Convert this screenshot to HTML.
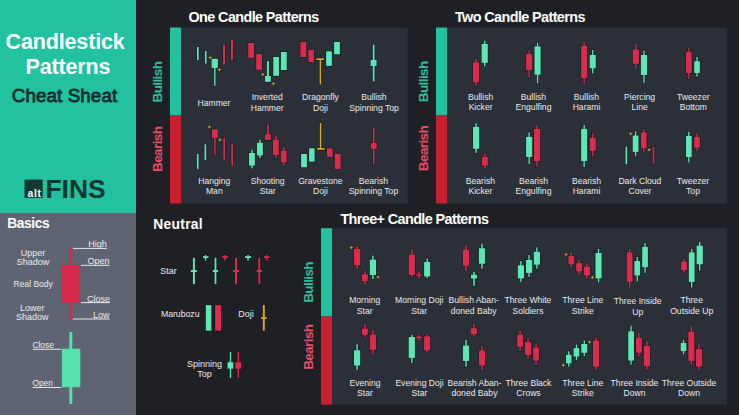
<!DOCTYPE html>
<html><head><meta charset="utf-8"><style>
html,body{margin:0;padding:0;background:#1f2026;width:739px;height:415px;overflow:hidden}
svg{display:block}
text{font-family:"Liberation Sans",sans-serif}
</style></head><body>
<svg width="739" height="415" viewBox="0 0 739 415">
<rect x="0" y="0" width="739" height="415" fill="#1f2026"/>
<rect x="0.0" y="0.0" width="136.0" height="213.0" fill="#22c1a0"/>
<rect x="0.0" y="213.0" width="136.0" height="202.0" fill="#5e6472"/>
<rect x="181.0" y="27.5" width="226.5" height="176.0" fill="#2b2f37"/>
<rect x="170.0" y="27.5" width="11.0" height="88.0" fill="#22c1a0"/>
<rect x="170.0" y="115.5" width="11.0" height="88.0" fill="#c8202e"/>
<rect x="447.0" y="27.5" width="280.0" height="176.0" fill="#2b2f37"/>
<rect x="436.0" y="27.5" width="11.0" height="88.0" fill="#22c1a0"/>
<rect x="436.0" y="115.5" width="11.0" height="88.0" fill="#c8202e"/>
<rect x="332.0" y="228.2" width="395.0" height="176.6" fill="#2b2f37"/>
<rect x="321.0" y="228.2" width="11.0" height="88.3" fill="#22c1a0"/>
<rect x="321.0" y="316.5" width="11.0" height="88.3" fill="#c8202e"/>
<rect x="196.3" y="46.2" width="3.1" height="14.8" fill="#16161c" opacity="0.7"/>
<rect x="204.2" y="50.3" width="3.1" height="14.0" fill="#16161c" opacity="0.7"/>
<rect x="213.4" y="58.1" width="2.8" height="28.5" fill="#16161c" opacity="0.7"/>
<rect x="210.9" y="58.1" width="7.7" height="10.5" fill="#16161c" opacity="0.7"/>
<rect x="222.3" y="43.8" width="3.4" height="21.6" fill="#16161c" opacity="0.7"/>
<rect x="230.3" y="39.0" width="3.4" height="21.6" fill="#16161c" opacity="0.7"/>
<rect x="247.5" y="42.3" width="7.2" height="16.2" fill="#16161c" opacity="0.7"/>
<rect x="255.5" y="53.4" width="7.2" height="17.1" fill="#16161c" opacity="0.7"/>
<rect x="266.2" y="60.4" width="3.4" height="22.1" fill="#16161c" opacity="0.7"/>
<rect x="264.3" y="75.3" width="7.2" height="7.2" fill="#16161c" opacity="0.7"/>
<rect x="272.6" y="56.3" width="7.1" height="20.2" fill="#16161c" opacity="0.7"/>
<rect x="280.2" y="51.3" width="7.2" height="19.4" fill="#16161c" opacity="0.7"/>
<rect x="299.7" y="41.3" width="7.2" height="16.4" fill="#16161c" opacity="0.7"/>
<rect x="307.7" y="49.1" width="6.9" height="13.7" fill="#16161c" opacity="0.7"/>
<rect x="315.6" y="57.7" width="9.1" height="3.0" fill="#16161c" opacity="0.7"/>
<rect x="318.9" y="57.7" width="2.9" height="27.6" fill="#16161c" opacity="0.7"/>
<rect x="325.4" y="50.6" width="7.2" height="16.0" fill="#16161c" opacity="0.7"/>
<rect x="333.4" y="41.3" width="7.2" height="13.7" fill="#16161c" opacity="0.7"/>
<rect x="372.1" y="44.0" width="3.1" height="38.2" fill="#16161c" opacity="0.7"/>
<rect x="369.9" y="59.2" width="7.4" height="7.5" fill="#16161c" opacity="0.7"/>
<rect x="196.2" y="153.2" width="3.1" height="16.8" fill="#16161c" opacity="0.7"/>
<rect x="203.8" y="143.6" width="3.1" height="17.1" fill="#16161c" opacity="0.7"/>
<rect x="213.5" y="128.6" width="2.8" height="27.6" fill="#16161c" opacity="0.7"/>
<rect x="211.3" y="128.6" width="7.2" height="10.0" fill="#16161c" opacity="0.7"/>
<rect x="222.6" y="137.2" width="3.1" height="23.1" fill="#16161c" opacity="0.7"/>
<rect x="230.6" y="143.0" width="3.1" height="23.5" fill="#16161c" opacity="0.7"/>
<rect x="250.6" y="149.0" width="2.8" height="20.2" fill="#16161c" opacity="0.7"/>
<rect x="248.3" y="152.3" width="7.3" height="14.0" fill="#16161c" opacity="0.7"/>
<rect x="258.5" y="138.9" width="2.8" height="19.9" fill="#16161c" opacity="0.7"/>
<rect x="256.2" y="142.1" width="7.3" height="14.1" fill="#16161c" opacity="0.7"/>
<rect x="266.3" y="123.7" width="3.1" height="16.9" fill="#16161c" opacity="0.7"/>
<rect x="264.2" y="133.5" width="7.3" height="7.1" fill="#16161c" opacity="0.7"/>
<rect x="274.5" y="135.3" width="2.8" height="23.4" fill="#16161c" opacity="0.7"/>
<rect x="272.3" y="138.9" width="7.1" height="16.8" fill="#16161c" opacity="0.7"/>
<rect x="282.3" y="146.4" width="2.8" height="19.9" fill="#16161c" opacity="0.7"/>
<rect x="280.1" y="150.2" width="7.2" height="12.8" fill="#16161c" opacity="0.7"/>
<rect x="300.4" y="153.3" width="7.2" height="14.7" fill="#16161c" opacity="0.7"/>
<rect x="308.4" y="147.6" width="6.9" height="14.7" fill="#16161c" opacity="0.7"/>
<rect x="319.1" y="122.3" width="2.9" height="28.1" fill="#16161c" opacity="0.7"/>
<rect x="316.3" y="147.3" width="9.1" height="3.1" fill="#16161c" opacity="0.7"/>
<rect x="326.2" y="147.6" width="7.1" height="10.0" fill="#16161c" opacity="0.7"/>
<rect x="334.1" y="153.0" width="7.2" height="16.9" fill="#16161c" opacity="0.7"/>
<rect x="372.3" y="127.0" width="2.9" height="38.5" fill="#16161c" opacity="0.7"/>
<rect x="370.2" y="142.2" width="7.2" height="7.4" fill="#16161c" opacity="0.7"/>
<rect x="474.7" y="58.0" width="2.8" height="28.4" fill="#16161c" opacity="0.7"/>
<rect x="472.3" y="61.7" width="7.6" height="21.2" fill="#16161c" opacity="0.7"/>
<rect x="483.3" y="40.0" width="2.8" height="27.0" fill="#16161c" opacity="0.7"/>
<rect x="480.9" y="43.2" width="7.6" height="20.3" fill="#16161c" opacity="0.7"/>
<rect x="527.8" y="49.8" width="2.7" height="28.4" fill="#16161c" opacity="0.7"/>
<rect x="525.4" y="53.3" width="7.5" height="17.4" fill="#16161c" opacity="0.7"/>
<rect x="536.2" y="42.0" width="2.7" height="42.0" fill="#16161c" opacity="0.7"/>
<rect x="533.8" y="45.7" width="7.5" height="29.7" fill="#16161c" opacity="0.7"/>
<rect x="582.8" y="41.2" width="2.7" height="43.8" fill="#16161c" opacity="0.7"/>
<rect x="580.4" y="45.3" width="7.5" height="33.5" fill="#16161c" opacity="0.7"/>
<rect x="591.4" y="49.2" width="2.7" height="24.9" fill="#16161c" opacity="0.7"/>
<rect x="589.0" y="54.3" width="7.5" height="14.7" fill="#16161c" opacity="0.7"/>
<rect x="634.4" y="43.2" width="2.7" height="26.4" fill="#16161c" opacity="0.7"/>
<rect x="632.0" y="48.8" width="7.6" height="15.7" fill="#16161c" opacity="0.7"/>
<rect x="642.6" y="49.8" width="2.7" height="33.7" fill="#16161c" opacity="0.7"/>
<rect x="640.2" y="54.3" width="7.6" height="21.4" fill="#16161c" opacity="0.7"/>
<rect x="687.5" y="46.7" width="2.7" height="33.1" fill="#16161c" opacity="0.7"/>
<rect x="685.3" y="51.4" width="7.1" height="22.3" fill="#16161c" opacity="0.7"/>
<rect x="695.7" y="56.3" width="2.7" height="21.1" fill="#16161c" opacity="0.7"/>
<rect x="693.5" y="60.6" width="7.1" height="13.1" fill="#16161c" opacity="0.7"/>
<rect x="474.7" y="122.5" width="2.8" height="31.1" fill="#16161c" opacity="0.7"/>
<rect x="472.3" y="126.2" width="7.6" height="23.3" fill="#16161c" opacity="0.7"/>
<rect x="483.5" y="152.6" width="2.8" height="16.8" fill="#16161c" opacity="0.7"/>
<rect x="481.3" y="156.3" width="7.2" height="10.0" fill="#16161c" opacity="0.7"/>
<rect x="527.8" y="131.7" width="2.7" height="33.2" fill="#16161c" opacity="0.7"/>
<rect x="525.4" y="136.2" width="7.5" height="21.5" fill="#16161c" opacity="0.7"/>
<rect x="535.7" y="124.1" width="2.7" height="43.4" fill="#16161c" opacity="0.7"/>
<rect x="533.3" y="128.2" width="7.6" height="33.6" fill="#16161c" opacity="0.7"/>
<rect x="582.8" y="124.1" width="2.7" height="43.8" fill="#16161c" opacity="0.7"/>
<rect x="580.4" y="128.2" width="7.5" height="33.6" fill="#16161c" opacity="0.7"/>
<rect x="591.4" y="132.3" width="2.7" height="25.0" fill="#16161c" opacity="0.7"/>
<rect x="589.0" y="137.2" width="7.5" height="14.3" fill="#16161c" opacity="0.7"/>
<rect x="624.8" y="146.0" width="3.1" height="18.9" fill="#16161c" opacity="0.7"/>
<rect x="634.2" y="130.7" width="2.7" height="26.0" fill="#16161c" opacity="0.7"/>
<rect x="632.0" y="134.8" width="7.2" height="17.8" fill="#16161c" opacity="0.7"/>
<rect x="642.4" y="128.2" width="2.7" height="24.8" fill="#16161c" opacity="0.7"/>
<rect x="640.2" y="131.7" width="7.1" height="17.2" fill="#16161c" opacity="0.7"/>
<rect x="651.9" y="146.0" width="3.1" height="18.5" fill="#16161c" opacity="0.7"/>
<rect x="687.5" y="131.1" width="2.7" height="32.1" fill="#16161c" opacity="0.7"/>
<rect x="685.3" y="135.2" width="7.1" height="22.5" fill="#16161c" opacity="0.7"/>
<rect x="695.7" y="132.3" width="2.7" height="19.8" fill="#16161c" opacity="0.7"/>
<rect x="693.5" y="136.2" width="7.1" height="12.2" fill="#16161c" opacity="0.7"/>
<rect x="192.2" y="257.1" width="3.4" height="27.8" fill="#16161c" opacity="0.7"/>
<rect x="190.1" y="269.3" width="7.5" height="3.4" fill="#16161c" opacity="0.7"/>
<rect x="204.2" y="254.3" width="2.9" height="7.0" fill="#16161c" opacity="0.7"/>
<rect x="202.3" y="255.5" width="6.8" height="3.2" fill="#16161c" opacity="0.7"/>
<rect x="213.9" y="257.1" width="3.2" height="27.8" fill="#16161c" opacity="0.7"/>
<rect x="212.1" y="269.3" width="6.7" height="3.4" fill="#16161c" opacity="0.7"/>
<rect x="223.7" y="254.3" width="2.9" height="7.0" fill="#16161c" opacity="0.7"/>
<rect x="221.4" y="255.5" width="7.5" height="3.2" fill="#16161c" opacity="0.7"/>
<rect x="234.3" y="257.1" width="3.4" height="27.8" fill="#16161c" opacity="0.7"/>
<rect x="232.2" y="269.3" width="7.5" height="3.4" fill="#16161c" opacity="0.7"/>
<rect x="246.7" y="254.3" width="2.9" height="7.0" fill="#16161c" opacity="0.7"/>
<rect x="244.3" y="255.5" width="7.5" height="3.2" fill="#16161c" opacity="0.7"/>
<rect x="257.7" y="257.1" width="3.2" height="27.8" fill="#16161c" opacity="0.7"/>
<rect x="255.9" y="269.3" width="6.9" height="3.4" fill="#16161c" opacity="0.7"/>
<rect x="265.2" y="254.3" width="2.9" height="7.0" fill="#16161c" opacity="0.7"/>
<rect x="263.2" y="255.5" width="6.9" height="3.2" fill="#16161c" opacity="0.7"/>
<rect x="205.1" y="304.4" width="7.0" height="27.0" fill="#16161c" opacity="0.7"/>
<rect x="214.4" y="304.4" width="7.4" height="27.0" fill="#16161c" opacity="0.7"/>
<rect x="262.1" y="304.3" width="3.4" height="27.1" fill="#16161c" opacity="0.7"/>
<rect x="260.3" y="316.5" width="7.1" height="3.2" fill="#16161c" opacity="0.7"/>
<rect x="229.1" y="351.2" width="2.8" height="27.4" fill="#16161c" opacity="0.7"/>
<rect x="226.8" y="361.5" width="7.3" height="7.9" fill="#16161c" opacity="0.7"/>
<rect x="236.9" y="351.2" width="2.8" height="27.4" fill="#16161c" opacity="0.7"/>
<rect x="234.6" y="361.5" width="7.3" height="7.9" fill="#16161c" opacity="0.7"/>
<rect x="355.7" y="245.0" width="2.8" height="24.5" fill="#16161c" opacity="0.7"/>
<rect x="353.3" y="248.2" width="7.6" height="17.8" fill="#16161c" opacity="0.7"/>
<rect x="363.5" y="270.1" width="2.8" height="15.2" fill="#16161c" opacity="0.7"/>
<rect x="361.3" y="273.6" width="7.2" height="8.2" fill="#16161c" opacity="0.7"/>
<rect x="371.5" y="254.8" width="2.8" height="24.9" fill="#16161c" opacity="0.7"/>
<rect x="369.1" y="258.9" width="7.6" height="16.8" fill="#16161c" opacity="0.7"/>
<rect x="410.4" y="248.2" width="2.8" height="29.5" fill="#16161c" opacity="0.7"/>
<rect x="408.0" y="253.8" width="7.6" height="21.9" fill="#16161c" opacity="0.7"/>
<rect x="417.6" y="271.2" width="2.9" height="7.5" fill="#16161c" opacity="0.7"/>
<rect x="415.6" y="273.6" width="6.7" height="3.0" fill="#16161c" opacity="0.7"/>
<rect x="425.8" y="257.9" width="2.8" height="20.8" fill="#16161c" opacity="0.7"/>
<rect x="423.4" y="261.3" width="7.5" height="15.8" fill="#16161c" opacity="0.7"/>
<rect x="464.6" y="244.1" width="2.8" height="28.1" fill="#16161c" opacity="0.7"/>
<rect x="462.2" y="249.0" width="7.6" height="17.4" fill="#16161c" opacity="0.7"/>
<rect x="472.5" y="271.2" width="3.0" height="15.3" fill="#16161c" opacity="0.7"/>
<rect x="470.3" y="274.1" width="7.4" height="5.1" fill="#16161c" opacity="0.7"/>
<rect x="480.6" y="242.9" width="2.8" height="26.6" fill="#16161c" opacity="0.7"/>
<rect x="478.2" y="247.6" width="7.6" height="16.8" fill="#16161c" opacity="0.7"/>
<rect x="519.5" y="260.3" width="2.7" height="22.5" fill="#16161c" opacity="0.7"/>
<rect x="517.1" y="264.6" width="7.6" height="14.5" fill="#16161c" opacity="0.7"/>
<rect x="527.7" y="254.3" width="2.7" height="23.4" fill="#16161c" opacity="0.7"/>
<rect x="525.3" y="259.3" width="7.6" height="14.3" fill="#16161c" opacity="0.7"/>
<rect x="535.5" y="246.6" width="2.7" height="22.9" fill="#16161c" opacity="0.7"/>
<rect x="533.1" y="251.1" width="7.6" height="14.3" fill="#16161c" opacity="0.7"/>
<rect x="569.9" y="251.7" width="2.7" height="16.8" fill="#16161c" opacity="0.7"/>
<rect x="567.7" y="255.4" width="7.2" height="9.6" fill="#16161c" opacity="0.7"/>
<rect x="577.8" y="258.9" width="2.7" height="16.8" fill="#16161c" opacity="0.7"/>
<rect x="575.5" y="262.4" width="7.4" height="9.6" fill="#16161c" opacity="0.7"/>
<rect x="585.5" y="262.6" width="2.7" height="17.1" fill="#16161c" opacity="0.7"/>
<rect x="583.1" y="266.0" width="7.6" height="10.1" fill="#16161c" opacity="0.7"/>
<rect x="597.2" y="248.2" width="2.7" height="35.0" fill="#16161c" opacity="0.7"/>
<rect x="594.8" y="252.3" width="7.5" height="26.8" fill="#16161c" opacity="0.7"/>
<rect x="628.3" y="248.2" width="2.7" height="40.3" fill="#16161c" opacity="0.7"/>
<rect x="626.1" y="251.7" width="7.1" height="30.7" fill="#16161c" opacity="0.7"/>
<rect x="635.9" y="256.2" width="2.7" height="26.0" fill="#16161c" opacity="0.7"/>
<rect x="633.7" y="260.3" width="7.1" height="15.8" fill="#16161c" opacity="0.7"/>
<rect x="643.7" y="242.1" width="2.7" height="31.5" fill="#16161c" opacity="0.7"/>
<rect x="641.5" y="246.2" width="7.1" height="21.7" fill="#16161c" opacity="0.7"/>
<rect x="682.6" y="257.9" width="2.7" height="16.1" fill="#16161c" opacity="0.7"/>
<rect x="680.4" y="260.9" width="7.1" height="10.0" fill="#16161c" opacity="0.7"/>
<rect x="690.3" y="248.2" width="2.7" height="40.1" fill="#16161c" opacity="0.7"/>
<rect x="688.1" y="251.7" width="7.2" height="31.1" fill="#16161c" opacity="0.7"/>
<rect x="698.3" y="241.1" width="2.7" height="30.4" fill="#16161c" opacity="0.7"/>
<rect x="695.9" y="244.9" width="7.6" height="20.1" fill="#16161c" opacity="0.7"/>
<rect x="355.7" y="343.5" width="2.8" height="27.4" fill="#16161c" opacity="0.7"/>
<rect x="353.3" y="349.6" width="7.6" height="16.6" fill="#16161c" opacity="0.7"/>
<rect x="363.5" y="323.4" width="2.8" height="14.7" fill="#16161c" opacity="0.7"/>
<rect x="361.3" y="327.9" width="7.2" height="7.5" fill="#16161c" opacity="0.7"/>
<rect x="371.5" y="329.1" width="2.8" height="26.4" fill="#16161c" opacity="0.7"/>
<rect x="369.1" y="334.0" width="7.6" height="16.4" fill="#16161c" opacity="0.7"/>
<rect x="410.4" y="334.0" width="2.8" height="29.7" fill="#16161c" opacity="0.7"/>
<rect x="408.0" y="336.3" width="7.6" height="22.3" fill="#16161c" opacity="0.7"/>
<rect x="417.6" y="334.0" width="2.9" height="7.2" fill="#16161c" opacity="0.7"/>
<rect x="415.6" y="335.9" width="7.1" height="3.0" fill="#16161c" opacity="0.7"/>
<rect x="425.8" y="333.6" width="2.8" height="20.3" fill="#16161c" opacity="0.7"/>
<rect x="423.4" y="335.7" width="7.5" height="15.3" fill="#16161c" opacity="0.7"/>
<rect x="464.6" y="339.2" width="2.8" height="28.2" fill="#16161c" opacity="0.7"/>
<rect x="462.2" y="344.9" width="7.6" height="16.8" fill="#16161c" opacity="0.7"/>
<rect x="472.4" y="322.8" width="2.8" height="14.9" fill="#16161c" opacity="0.7"/>
<rect x="470.0" y="327.5" width="7.6" height="7.5" fill="#16161c" opacity="0.7"/>
<rect x="480.6" y="344.9" width="2.8" height="26.0" fill="#16161c" opacity="0.7"/>
<rect x="478.2" y="350.0" width="7.6" height="16.2" fill="#16161c" opacity="0.7"/>
<rect x="518.7" y="329.5" width="2.7" height="22.3" fill="#16161c" opacity="0.7"/>
<rect x="516.5" y="334.0" width="7.2" height="13.3" fill="#16161c" opacity="0.7"/>
<rect x="526.7" y="337.1" width="2.7" height="22.5" fill="#16161c" opacity="0.7"/>
<rect x="524.3" y="341.4" width="7.6" height="14.1" fill="#16161c" opacity="0.7"/>
<rect x="534.7" y="342.4" width="2.7" height="23.4" fill="#16161c" opacity="0.7"/>
<rect x="532.5" y="347.0" width="7.1" height="14.3" fill="#16161c" opacity="0.7"/>
<rect x="567.4" y="350.6" width="2.7" height="16.8" fill="#16161c" opacity="0.7"/>
<rect x="565.3" y="354.1" width="6.9" height="10.0" fill="#16161c" opacity="0.7"/>
<rect x="575.1" y="343.9" width="2.7" height="16.8" fill="#16161c" opacity="0.7"/>
<rect x="572.9" y="347.4" width="7.1" height="9.8" fill="#16161c" opacity="0.7"/>
<rect x="582.9" y="339.8" width="2.7" height="17.2" fill="#16161c" opacity="0.7"/>
<rect x="580.6" y="343.3" width="7.4" height="10.2" fill="#16161c" opacity="0.7"/>
<rect x="594.7" y="336.1" width="2.7" height="34.8" fill="#16161c" opacity="0.7"/>
<rect x="592.3" y="339.8" width="7.6" height="27.6" fill="#16161c" opacity="0.7"/>
<rect x="629.7" y="325.0" width="2.7" height="40.4" fill="#16161c" opacity="0.7"/>
<rect x="627.5" y="330.6" width="7.2" height="30.7" fill="#16161c" opacity="0.7"/>
<rect x="637.5" y="331.6" width="2.7" height="25.6" fill="#16161c" opacity="0.7"/>
<rect x="635.3" y="337.1" width="7.2" height="16.4" fill="#16161c" opacity="0.7"/>
<rect x="645.5" y="340.4" width="2.7" height="30.5" fill="#16161c" opacity="0.7"/>
<rect x="643.1" y="345.3" width="7.6" height="21.5" fill="#16161c" opacity="0.7"/>
<rect x="682.2" y="339.1" width="2.7" height="16.0" fill="#16161c" opacity="0.7"/>
<rect x="680.0" y="342.2" width="7.1" height="9.6" fill="#16161c" opacity="0.7"/>
<rect x="690.0" y="325.0" width="2.7" height="40.3" fill="#16161c" opacity="0.7"/>
<rect x="687.6" y="331.0" width="7.5" height="30.6" fill="#16161c" opacity="0.7"/>
<rect x="697.7" y="342.2" width="2.7" height="29.7" fill="#16161c" opacity="0.7"/>
<rect x="695.3" y="348.4" width="7.6" height="18.9" fill="#16161c" opacity="0.7"/>
<rect x="197.0" y="46.9" width="1.7" height="13.4" fill="#5ce8b6"/>
<rect x="204.9" y="51.0" width="1.7" height="12.6" fill="#5ce8b6"/>
<path d="M208.30,57.60 L209.52,57.02 L210.10,55.89 L210.68,57.02 L211.90,57.60 L210.68,58.18 L210.10,59.31 L209.52,58.18 Z" fill="#dca81a"/>
<rect x="214.1" y="58.8" width="1.4" height="27.1" fill="#5ce8b6"/>
<rect x="211.6" y="58.8" width="6.3" height="9.1" fill="#5ce8b6"/>
<path d="M217.60,69.60 L218.82,69.02 L219.40,67.89 L219.98,69.02 L221.20,69.60 L219.98,70.18 L219.40,71.31 L218.82,70.18 Z" fill="#dca81a"/>
<rect x="223.0" y="44.5" width="2.0" height="20.2" fill="#dc2c4e"/>
<rect x="231.0" y="39.7" width="2.0" height="20.2" fill="#dc2c4e"/>
<rect x="248.2" y="43.0" width="5.8" height="14.8" fill="#dc2c4e"/>
<rect x="256.2" y="54.1" width="5.8" height="15.7" fill="#dc2c4e"/>
<path d="M261.00,74.40 L262.22,73.82 L262.80,72.69 L263.38,73.82 L264.60,74.40 L263.38,74.98 L262.80,76.11 L262.22,74.98 Z" fill="#dca81a"/>
<rect x="266.9" y="61.1" width="2.0" height="20.7" fill="#5ce8b6"/>
<rect x="265.0" y="76.0" width="5.8" height="5.8" fill="#5ce8b6"/>
<path d="M271.60,83.60 L272.82,83.02 L273.40,81.89 L273.98,83.02 L275.20,83.60 L273.98,84.18 L273.40,85.31 L272.82,84.18 Z" fill="#dca81a"/>
<rect x="273.3" y="57.0" width="5.7" height="18.8" fill="#5ce8b6"/>
<rect x="280.9" y="52.0" width="5.8" height="18.0" fill="#5ce8b6"/>
<rect x="300.4" y="42.0" width="5.8" height="15.0" fill="#dc2c4e"/>
<rect x="308.4" y="49.8" width="5.5" height="12.3" fill="#dc2c4e"/>
<rect x="316.3" y="58.4" width="7.7" height="1.6" fill="#dca81a"/>
<rect x="319.6" y="58.4" width="1.5" height="26.2" fill="#dca81a"/>
<rect x="326.1" y="51.3" width="5.8" height="14.6" fill="#5ce8b6"/>
<rect x="334.1" y="42.0" width="5.8" height="12.3" fill="#5ce8b6"/>
<rect x="372.8" y="44.7" width="1.7" height="36.8" fill="#5ce8b6"/>
<rect x="370.6" y="59.9" width="6.0" height="6.1" fill="#5ce8b6"/>
<rect x="196.9" y="153.9" width="1.7" height="15.4" fill="#5ce8b6"/>
<rect x="204.5" y="144.3" width="1.7" height="15.7" fill="#5ce8b6"/>
<path d="M207.60,126.90 L208.82,126.32 L209.40,125.19 L209.98,126.32 L211.20,126.90 L209.98,127.48 L209.40,128.61 L208.82,127.48 Z" fill="#dca81a"/>
<rect x="214.2" y="129.3" width="1.4" height="26.2" fill="#dc2c4e"/>
<rect x="212.0" y="129.3" width="5.8" height="8.6" fill="#dc2c4e"/>
<path d="M218.10,139.80 L219.32,139.22 L219.90,138.09 L220.48,139.22 L221.70,139.80 L220.48,140.38 L219.90,141.51 L219.32,140.38 Z" fill="#dca81a"/>
<rect x="223.3" y="137.9" width="1.7" height="21.7" fill="#dc2c4e"/>
<rect x="231.3" y="143.7" width="1.7" height="22.1" fill="#dc2c4e"/>
<rect x="251.3" y="149.7" width="1.4" height="18.8" fill="#5ce8b6"/>
<rect x="249.0" y="153.0" width="5.9" height="12.6" fill="#5ce8b6"/>
<rect x="259.2" y="139.6" width="1.4" height="18.5" fill="#5ce8b6"/>
<rect x="256.9" y="142.8" width="5.9" height="12.7" fill="#5ce8b6"/>
<rect x="267.0" y="124.4" width="1.7" height="15.5" fill="#dc2c4e"/>
<rect x="264.9" y="134.2" width="5.9" height="5.7" fill="#dc2c4e"/>
<rect x="275.2" y="136.0" width="1.4" height="22.0" fill="#dc2c4e"/>
<rect x="273.0" y="139.6" width="5.7" height="15.4" fill="#dc2c4e"/>
<rect x="283.0" y="147.1" width="1.4" height="18.5" fill="#dc2c4e"/>
<rect x="280.8" y="150.9" width="5.8" height="11.4" fill="#dc2c4e"/>
<rect x="301.1" y="154.0" width="5.8" height="13.3" fill="#5ce8b6"/>
<rect x="309.1" y="148.3" width="5.5" height="13.3" fill="#5ce8b6"/>
<rect x="319.8" y="123.0" width="1.5" height="26.7" fill="#dca81a"/>
<rect x="317.0" y="148.0" width="7.7" height="1.7" fill="#dca81a"/>
<rect x="326.9" y="148.3" width="5.7" height="8.6" fill="#dc2c4e"/>
<rect x="334.8" y="153.7" width="5.8" height="15.5" fill="#dc2c4e"/>
<rect x="373.0" y="127.7" width="1.5" height="37.1" fill="#dc2c4e"/>
<rect x="370.9" y="142.9" width="5.8" height="6.0" fill="#dc2c4e"/>
<rect x="475.4" y="58.7" width="1.4" height="27.0" fill="#dc2c4e"/>
<rect x="473.0" y="62.4" width="6.2" height="19.8" fill="#dc2c4e"/>
<rect x="484.0" y="40.7" width="1.4" height="25.6" fill="#5ce8b6"/>
<rect x="481.6" y="43.9" width="6.2" height="18.9" fill="#5ce8b6"/>
<rect x="528.5" y="50.5" width="1.3" height="27.0" fill="#dc2c4e"/>
<rect x="526.1" y="54.0" width="6.1" height="16.0" fill="#dc2c4e"/>
<rect x="536.9" y="42.7" width="1.3" height="40.6" fill="#5ce8b6"/>
<rect x="534.5" y="46.4" width="6.1" height="28.3" fill="#5ce8b6"/>
<rect x="583.5" y="41.9" width="1.3" height="42.4" fill="#dc2c4e"/>
<rect x="581.1" y="46.0" width="6.1" height="32.1" fill="#dc2c4e"/>
<rect x="592.1" y="49.9" width="1.3" height="23.5" fill="#5ce8b6"/>
<rect x="589.7" y="55.0" width="6.1" height="13.3" fill="#5ce8b6"/>
<rect x="635.1" y="43.9" width="1.3" height="25.0" fill="#dc2c4e"/>
<rect x="632.7" y="49.5" width="6.2" height="14.3" fill="#dc2c4e"/>
<rect x="643.3" y="50.5" width="1.3" height="32.3" fill="#5ce8b6"/>
<rect x="640.9" y="55.0" width="6.2" height="20.0" fill="#5ce8b6"/>
<rect x="688.2" y="47.4" width="1.3" height="31.7" fill="#dc2c4e"/>
<rect x="686.0" y="52.1" width="5.7" height="20.9" fill="#dc2c4e"/>
<rect x="696.4" y="57.0" width="1.3" height="19.7" fill="#5ce8b6"/>
<rect x="694.2" y="61.3" width="5.7" height="11.7" fill="#5ce8b6"/>
<rect x="475.4" y="123.2" width="1.4" height="29.7" fill="#5ce8b6"/>
<rect x="473.0" y="126.9" width="6.2" height="21.9" fill="#5ce8b6"/>
<rect x="484.2" y="153.3" width="1.4" height="15.4" fill="#dc2c4e"/>
<rect x="482.0" y="157.0" width="5.8" height="8.6" fill="#dc2c4e"/>
<rect x="528.5" y="132.4" width="1.3" height="31.8" fill="#5ce8b6"/>
<rect x="526.1" y="136.9" width="6.1" height="20.1" fill="#5ce8b6"/>
<rect x="536.4" y="124.8" width="1.3" height="42.0" fill="#dc2c4e"/>
<rect x="534.0" y="128.9" width="6.2" height="32.2" fill="#dc2c4e"/>
<rect x="583.5" y="124.8" width="1.3" height="42.4" fill="#5ce8b6"/>
<rect x="581.1" y="128.9" width="6.1" height="32.2" fill="#5ce8b6"/>
<rect x="592.1" y="133.0" width="1.3" height="23.6" fill="#dc2c4e"/>
<rect x="589.7" y="137.9" width="6.1" height="12.9" fill="#dc2c4e"/>
<rect x="625.5" y="146.7" width="1.7" height="17.5" fill="#5ce8b6"/>
<path d="M628.90,133.80 L630.12,133.22 L630.70,132.09 L631.28,133.22 L632.50,133.80 L631.28,134.38 L630.70,135.51 L630.12,134.38 Z" fill="#dca81a"/>
<rect x="634.9" y="131.4" width="1.3" height="24.6" fill="#5ce8b6"/>
<rect x="632.7" y="135.5" width="5.8" height="16.4" fill="#5ce8b6"/>
<rect x="643.1" y="128.9" width="1.3" height="23.4" fill="#dc2c4e"/>
<rect x="640.9" y="132.4" width="5.7" height="15.8" fill="#dc2c4e"/>
<path d="M647.30,149.80 L648.52,149.22 L649.10,148.09 L649.68,149.22 L650.90,149.80 L649.68,150.38 L649.10,151.51 L648.52,150.38 Z" fill="#dca81a"/>
<rect x="652.6" y="146.7" width="1.7" height="17.1" fill="#dc2c4e"/>
<rect x="688.2" y="131.8" width="1.3" height="30.7" fill="#5ce8b6"/>
<rect x="686.0" y="135.9" width="5.7" height="21.1" fill="#5ce8b6"/>
<rect x="696.4" y="133.0" width="1.3" height="18.4" fill="#dc2c4e"/>
<rect x="694.2" y="136.9" width="5.7" height="10.8" fill="#dc2c4e"/>
<rect x="192.9" y="257.8" width="2.0" height="26.4" fill="#5ce8b6"/>
<rect x="190.8" y="270.0" width="6.1" height="2.0" fill="#5ce8b6"/>
<rect x="204.8" y="255.0" width="1.5" height="5.6" fill="#5ce8b6"/>
<rect x="203.0" y="256.2" width="5.4" height="1.8" fill="#5ce8b6"/>
<rect x="214.6" y="257.8" width="1.8" height="26.4" fill="#5ce8b6"/>
<rect x="212.8" y="270.0" width="5.3" height="2.0" fill="#5ce8b6"/>
<rect x="224.3" y="255.0" width="1.5" height="5.6" fill="#dc2c4e"/>
<rect x="222.1" y="256.2" width="6.1" height="1.8" fill="#dc2c4e"/>
<rect x="235.0" y="257.8" width="2.0" height="26.4" fill="#dc2c4e"/>
<rect x="232.9" y="270.0" width="6.1" height="2.0" fill="#dc2c4e"/>
<rect x="247.3" y="255.0" width="1.5" height="5.6" fill="#5ce8b6"/>
<rect x="245.0" y="256.2" width="6.1" height="1.8" fill="#5ce8b6"/>
<rect x="258.4" y="257.8" width="1.8" height="26.4" fill="#dc2c4e"/>
<rect x="256.6" y="270.0" width="5.5" height="2.0" fill="#dc2c4e"/>
<rect x="265.9" y="255.0" width="1.5" height="5.6" fill="#dc2c4e"/>
<rect x="263.9" y="256.2" width="5.5" height="1.8" fill="#dc2c4e"/>
<rect x="205.8" y="305.1" width="5.6" height="25.6" fill="#5ce8b6"/>
<rect x="215.1" y="305.1" width="6.0" height="25.6" fill="#dc2c4e"/>
<rect x="262.8" y="305.0" width="2.0" height="25.7" fill="#dca81a"/>
<rect x="261.0" y="317.2" width="5.7" height="1.8" fill="#dca81a"/>
<rect x="229.8" y="351.9" width="1.4" height="26.0" fill="#5ce8b6"/>
<rect x="227.5" y="362.2" width="5.9" height="6.5" fill="#5ce8b6"/>
<rect x="237.6" y="351.9" width="1.4" height="26.0" fill="#dc2c4e"/>
<rect x="235.3" y="362.2" width="5.9" height="6.5" fill="#dc2c4e"/>
<path d="M349.60,247.70 L350.82,247.12 L351.40,245.99 L351.98,247.12 L353.20,247.70 L351.98,248.28 L351.40,249.41 L350.82,248.28 Z" fill="#dca81a"/>
<rect x="356.4" y="245.7" width="1.4" height="23.1" fill="#dc2c4e"/>
<rect x="354.0" y="248.9" width="6.2" height="16.4" fill="#dc2c4e"/>
<rect x="364.2" y="270.8" width="1.4" height="13.8" fill="#dc2c4e"/>
<rect x="362.0" y="274.3" width="5.8" height="6.8" fill="#dc2c4e"/>
<rect x="372.2" y="255.5" width="1.4" height="23.5" fill="#5ce8b6"/>
<rect x="369.8" y="259.6" width="6.2" height="15.4" fill="#5ce8b6"/>
<path d="M376.20,277.00 L377.42,276.42 L378.00,275.29 L378.58,276.42 L379.80,277.00 L378.58,277.58 L378.00,278.71 L377.42,277.58 Z" fill="#dca81a"/>
<rect x="411.1" y="248.9" width="1.4" height="28.1" fill="#dc2c4e"/>
<rect x="408.7" y="254.5" width="6.2" height="20.5" fill="#dc2c4e"/>
<rect x="418.2" y="271.9" width="1.5" height="6.1" fill="#dc2c4e"/>
<rect x="416.3" y="274.3" width="5.3" height="1.6" fill="#dc2c4e"/>
<rect x="426.5" y="258.6" width="1.4" height="19.4" fill="#5ce8b6"/>
<rect x="424.1" y="262.0" width="6.1" height="14.4" fill="#5ce8b6"/>
<rect x="465.3" y="244.8" width="1.4" height="26.7" fill="#dc2c4e"/>
<rect x="462.9" y="249.7" width="6.2" height="16.0" fill="#dc2c4e"/>
<rect x="473.2" y="271.9" width="1.6" height="13.9" fill="#5ce8b6"/>
<rect x="471.0" y="274.8" width="6.0" height="3.7" fill="#5ce8b6"/>
<rect x="481.3" y="243.6" width="1.4" height="25.2" fill="#5ce8b6"/>
<rect x="478.9" y="248.3" width="6.2" height="15.4" fill="#5ce8b6"/>
<rect x="520.2" y="261.0" width="1.3" height="21.1" fill="#5ce8b6"/>
<rect x="517.8" y="265.3" width="6.2" height="13.1" fill="#5ce8b6"/>
<rect x="528.4" y="255.0" width="1.3" height="22.0" fill="#5ce8b6"/>
<rect x="526.0" y="260.0" width="6.2" height="12.9" fill="#5ce8b6"/>
<rect x="536.2" y="247.3" width="1.3" height="21.5" fill="#5ce8b6"/>
<rect x="533.8" y="251.8" width="6.2" height="12.9" fill="#5ce8b6"/>
<path d="M564.20,254.50 L565.42,253.92 L566.00,252.79 L566.58,253.92 L567.80,254.50 L566.58,255.08 L566.00,256.21 L565.42,255.08 Z" fill="#dca81a"/>
<rect x="570.6" y="252.4" width="1.3" height="15.4" fill="#dc2c4e"/>
<rect x="568.4" y="256.1" width="5.8" height="8.2" fill="#dc2c4e"/>
<rect x="578.5" y="259.6" width="1.3" height="15.4" fill="#dc2c4e"/>
<rect x="576.2" y="263.1" width="6.0" height="8.2" fill="#dc2c4e"/>
<rect x="586.2" y="263.3" width="1.3" height="15.7" fill="#dc2c4e"/>
<rect x="583.8" y="266.7" width="6.2" height="8.7" fill="#dc2c4e"/>
<path d="M590.60,277.40 L591.82,276.82 L592.40,275.69 L592.98,276.82 L594.20,277.40 L592.98,277.98 L592.40,279.11 L591.82,277.98 Z" fill="#dca81a"/>
<rect x="597.9" y="248.9" width="1.3" height="33.6" fill="#5ce8b6"/>
<rect x="595.5" y="253.0" width="6.1" height="25.4" fill="#5ce8b6"/>
<rect x="629.0" y="248.9" width="1.3" height="38.9" fill="#dc2c4e"/>
<rect x="626.8" y="252.4" width="5.7" height="29.3" fill="#dc2c4e"/>
<rect x="636.6" y="256.9" width="1.3" height="24.6" fill="#5ce8b6"/>
<rect x="634.4" y="261.0" width="5.7" height="14.4" fill="#5ce8b6"/>
<rect x="644.4" y="242.8" width="1.3" height="30.1" fill="#5ce8b6"/>
<rect x="642.2" y="246.9" width="5.7" height="20.3" fill="#5ce8b6"/>
<rect x="683.3" y="258.6" width="1.3" height="14.7" fill="#dc2c4e"/>
<rect x="681.1" y="261.6" width="5.7" height="8.6" fill="#dc2c4e"/>
<rect x="691.0" y="248.9" width="1.3" height="38.7" fill="#5ce8b6"/>
<rect x="688.8" y="252.4" width="5.8" height="29.7" fill="#5ce8b6"/>
<rect x="699.0" y="241.8" width="1.3" height="29.0" fill="#5ce8b6"/>
<rect x="696.6" y="245.6" width="6.2" height="18.7" fill="#5ce8b6"/>
<rect x="356.4" y="344.2" width="1.4" height="26.0" fill="#5ce8b6"/>
<rect x="354.0" y="350.3" width="6.2" height="15.2" fill="#5ce8b6"/>
<rect x="364.2" y="324.1" width="1.4" height="13.3" fill="#dc2c4e"/>
<rect x="362.0" y="328.6" width="5.8" height="6.1" fill="#dc2c4e"/>
<rect x="372.2" y="329.8" width="1.4" height="25.0" fill="#dc2c4e"/>
<rect x="369.8" y="334.7" width="6.2" height="15.0" fill="#dc2c4e"/>
<rect x="411.1" y="334.7" width="1.4" height="28.3" fill="#5ce8b6"/>
<rect x="408.7" y="337.0" width="6.2" height="20.9" fill="#5ce8b6"/>
<rect x="418.2" y="334.7" width="1.5" height="5.8" fill="#dc2c4e"/>
<rect x="416.3" y="336.6" width="5.7" height="1.6" fill="#dc2c4e"/>
<rect x="426.5" y="334.3" width="1.4" height="18.9" fill="#dc2c4e"/>
<rect x="424.1" y="336.4" width="6.1" height="13.9" fill="#dc2c4e"/>
<rect x="465.3" y="339.9" width="1.4" height="26.8" fill="#5ce8b6"/>
<rect x="462.9" y="345.6" width="6.2" height="15.4" fill="#5ce8b6"/>
<rect x="473.1" y="323.5" width="1.4" height="13.5" fill="#dc2c4e"/>
<rect x="470.7" y="328.2" width="6.2" height="6.1" fill="#dc2c4e"/>
<rect x="481.3" y="345.6" width="1.4" height="24.6" fill="#dc2c4e"/>
<rect x="478.9" y="350.7" width="6.2" height="14.8" fill="#dc2c4e"/>
<rect x="519.4" y="330.2" width="1.3" height="20.9" fill="#dc2c4e"/>
<rect x="517.2" y="334.7" width="5.8" height="11.9" fill="#dc2c4e"/>
<rect x="527.4" y="337.8" width="1.3" height="21.1" fill="#dc2c4e"/>
<rect x="525.0" y="342.1" width="6.2" height="12.7" fill="#dc2c4e"/>
<rect x="535.4" y="343.1" width="1.3" height="22.0" fill="#dc2c4e"/>
<rect x="533.2" y="347.7" width="5.7" height="12.9" fill="#dc2c4e"/>
<path d="M561.50,365.10 L562.72,364.52 L563.30,363.39 L563.88,364.52 L565.10,365.10 L563.88,365.68 L563.30,366.81 L562.72,365.68 Z" fill="#dca81a"/>
<rect x="568.1" y="351.3" width="1.3" height="15.4" fill="#5ce8b6"/>
<rect x="566.0" y="354.8" width="5.5" height="8.6" fill="#5ce8b6"/>
<rect x="575.8" y="344.6" width="1.3" height="15.4" fill="#5ce8b6"/>
<rect x="573.6" y="348.1" width="5.7" height="8.4" fill="#5ce8b6"/>
<rect x="583.6" y="340.5" width="1.3" height="15.8" fill="#5ce8b6"/>
<rect x="581.3" y="344.0" width="6.0" height="8.8" fill="#5ce8b6"/>
<path d="M587.70,342.10 L588.92,341.52 L589.50,340.39 L590.08,341.52 L591.30,342.10 L590.08,342.68 L589.50,343.81 L588.92,342.68 Z" fill="#dca81a"/>
<rect x="595.4" y="336.8" width="1.3" height="33.4" fill="#dc2c4e"/>
<rect x="593.0" y="340.5" width="6.2" height="26.2" fill="#dc2c4e"/>
<rect x="630.4" y="325.7" width="1.3" height="39.0" fill="#5ce8b6"/>
<rect x="628.2" y="331.3" width="5.8" height="29.3" fill="#5ce8b6"/>
<rect x="638.2" y="332.3" width="1.3" height="24.2" fill="#dc2c4e"/>
<rect x="636.0" y="337.8" width="5.8" height="15.0" fill="#dc2c4e"/>
<rect x="646.2" y="341.1" width="1.3" height="29.1" fill="#dc2c4e"/>
<rect x="643.8" y="346.0" width="6.2" height="20.1" fill="#dc2c4e"/>
<rect x="682.9" y="339.8" width="1.3" height="14.6" fill="#5ce8b6"/>
<rect x="680.7" y="342.9" width="5.7" height="8.2" fill="#5ce8b6"/>
<rect x="690.7" y="325.7" width="1.3" height="38.9" fill="#dc2c4e"/>
<rect x="688.3" y="331.7" width="6.1" height="29.2" fill="#dc2c4e"/>
<rect x="698.4" y="342.9" width="1.3" height="28.3" fill="#dc2c4e"/>
<rect x="696.0" y="349.1" width="6.2" height="17.5" fill="#dc2c4e"/>
<rect x="24.5" y="179.6" width="18.2" height="18.3" fill="#12382f"/>
<rect x="69.1" y="248.0" width="3.2" height="71.5" fill="#d42a4a"/>
<rect x="61.3" y="265.0" width="18.6" height="37.7" fill="#d42a4a"/>
<rect x="72.8" y="247.9" width="34.0" height="1.0" fill="#e8e8e8"/>
<rect x="81.0" y="264.8" width="28.6" height="1.0" fill="#e8e8e8"/>
<rect x="81.0" y="302.1" width="29.0" height="1.0" fill="#e8e8e8"/>
<rect x="72.8" y="318.5" width="36.8" height="1.0" fill="#e8e8e8"/>
<rect x="69.3" y="331.9" width="3.0" height="72.2" fill="#56e3b0"/>
<rect x="62.0" y="348.7" width="18.3" height="38.5" fill="#56e3b0"/>
<rect x="32.6" y="348.8" width="28.7" height="1.0" fill="#e8e8e8"/>
<rect x="32.6" y="387.0" width="28.7" height="1.0" fill="#e8e8e8"/>
<text x="214.0" y="105.9" font-size="8.6" fill="#ececec" text-anchor="middle" font-weight="normal" >Hammer</text>
<text x="214.0" y="116.2" font-size="8.6" fill="#ececec" text-anchor="middle" font-weight="normal" ></text>
<text x="267.2" y="100.2" font-size="8.6" fill="#ececec" text-anchor="middle" font-weight="normal" >Inverted</text>
<text x="267.2" y="110.5" font-size="8.6" fill="#ececec" text-anchor="middle" font-weight="normal" >Hammer</text>
<text x="320.5" y="100.2" font-size="8.6" fill="#ececec" text-anchor="middle" font-weight="normal" >Dragonfly</text>
<text x="320.5" y="110.5" font-size="8.6" fill="#ececec" text-anchor="middle" font-weight="normal" >Doji</text>
<text x="374.0" y="100.2" font-size="8.6" fill="#ececec" text-anchor="middle" font-weight="normal" >Bullish</text>
<text x="374.0" y="110.5" font-size="8.6" fill="#ececec" text-anchor="middle" font-weight="normal" >Spinning Top</text>
<text x="214.3" y="183.7" font-size="8.6" fill="#ececec" text-anchor="middle" font-weight="normal" >Hanging</text>
<text x="214.3" y="194.0" font-size="8.6" fill="#ececec" text-anchor="middle" font-weight="normal" >Man</text>
<text x="267.7" y="183.9" font-size="8.6" fill="#ececec" text-anchor="middle" font-weight="normal" >Shooting</text>
<text x="267.7" y="194.2" font-size="8.6" fill="#ececec" text-anchor="middle" font-weight="normal" >Star</text>
<text x="320.4" y="183.9" font-size="8.6" fill="#ececec" text-anchor="middle" font-weight="normal" >Gravestone</text>
<text x="320.4" y="194.2" font-size="8.6" fill="#ececec" text-anchor="middle" font-weight="normal" >Doji</text>
<text x="373.4" y="183.9" font-size="8.6" fill="#ececec" text-anchor="middle" font-weight="normal" >Bearish</text>
<text x="373.4" y="194.2" font-size="8.6" fill="#ececec" text-anchor="middle" font-weight="normal" >Spinning Top</text>
<text x="480.6" y="100.1" font-size="8.6" fill="#ececec" text-anchor="middle" font-weight="normal" >Bullish</text>
<text x="480.6" y="110.4" font-size="8.6" fill="#ececec" text-anchor="middle" font-weight="normal" >Kicker</text>
<text x="533.5" y="100.1" font-size="8.6" fill="#ececec" text-anchor="middle" font-weight="normal" >Bullish</text>
<text x="533.5" y="110.4" font-size="8.6" fill="#ececec" text-anchor="middle" font-weight="normal" >Engulfing</text>
<text x="586.5" y="100.1" font-size="8.6" fill="#ececec" text-anchor="middle" font-weight="normal" >Bullish</text>
<text x="586.5" y="110.4" font-size="8.6" fill="#ececec" text-anchor="middle" font-weight="normal" >Harami</text>
<text x="639.6" y="100.1" font-size="8.6" fill="#ececec" text-anchor="middle" font-weight="normal" >Piercing</text>
<text x="639.6" y="110.4" font-size="8.6" fill="#ececec" text-anchor="middle" font-weight="normal" >Line</text>
<text x="693.3" y="100.1" font-size="8.6" fill="#ececec" text-anchor="middle" font-weight="normal" >Tweezer</text>
<text x="693.3" y="110.4" font-size="8.6" fill="#ececec" text-anchor="middle" font-weight="normal" >Bottom</text>
<text x="480.4" y="183.8" font-size="8.6" fill="#ececec" text-anchor="middle" font-weight="normal" >Bearish</text>
<text x="480.4" y="194.1" font-size="8.6" fill="#ececec" text-anchor="middle" font-weight="normal" >Kicker</text>
<text x="533.5" y="183.8" font-size="8.6" fill="#ececec" text-anchor="middle" font-weight="normal" >Bearish</text>
<text x="533.5" y="194.1" font-size="8.6" fill="#ececec" text-anchor="middle" font-weight="normal" >Engulfing</text>
<text x="586.5" y="183.8" font-size="8.6" fill="#ececec" text-anchor="middle" font-weight="normal" >Bearish</text>
<text x="586.5" y="194.1" font-size="8.6" fill="#ececec" text-anchor="middle" font-weight="normal" >Harami</text>
<text x="639.9" y="183.8" font-size="8.6" fill="#ececec" text-anchor="middle" font-weight="normal" >Dark Cloud</text>
<text x="639.9" y="194.1" font-size="8.6" fill="#ececec" text-anchor="middle" font-weight="normal" >Cover</text>
<text x="693.0" y="183.8" font-size="8.6" fill="#ececec" text-anchor="middle" font-weight="normal" >Tweezer</text>
<text x="693.0" y="194.1" font-size="8.6" fill="#ececec" text-anchor="middle" font-weight="normal" >Top</text>
<text x="160.3" y="273.9" font-size="9" fill="#ececec" text-anchor="start" font-weight="normal" >Star</text>
<text x="160.9" y="316.9" font-size="8.7" fill="#ececec" text-anchor="start" font-weight="normal" >Marubozu</text>
<text x="238.2" y="317.2" font-size="9" fill="#ececec" text-anchor="start" font-weight="normal" >Doji</text>
<text x="204.5" y="366.5" font-size="9" fill="#ececec" text-anchor="middle" font-weight="normal" >Spinning</text>
<text x="204.5" y="376.8" font-size="9" fill="#ececec" text-anchor="middle" font-weight="normal" >Top</text>
<text x="364.7" y="303.2" font-size="8.6" fill="#ececec" text-anchor="middle" font-weight="normal" >Morning</text>
<text x="364.7" y="313.5" font-size="8.6" fill="#ececec" text-anchor="middle" font-weight="normal" >Star</text>
<text x="419.2" y="303.2" font-size="8.6" fill="#ececec" text-anchor="middle" font-weight="normal" >Morning Doji</text>
<text x="419.2" y="313.5" font-size="8.6" fill="#ececec" text-anchor="middle" font-weight="normal" >Star</text>
<text x="473.7" y="303.2" font-size="8.6" fill="#ececec" text-anchor="middle" font-weight="normal" >Bullish Aban-</text>
<text x="473.7" y="313.5" font-size="8.6" fill="#ececec" text-anchor="middle" font-weight="normal" >doned Baby</text>
<text x="528.0" y="303.2" font-size="8.6" fill="#ececec" text-anchor="middle" font-weight="normal" >Three White</text>
<text x="528.0" y="313.5" font-size="8.6" fill="#ececec" text-anchor="middle" font-weight="normal" >Soldiers</text>
<text x="582.8" y="303.2" font-size="8.6" fill="#ececec" text-anchor="middle" font-weight="normal" >Three Line</text>
<text x="582.8" y="313.5" font-size="8.6" fill="#ececec" text-anchor="middle" font-weight="normal" >Strike</text>
<text x="637.7" y="304.2" font-size="8.6" fill="#ececec" text-anchor="middle" font-weight="normal" >Three Inside</text>
<text x="637.7" y="314.5" font-size="8.6" fill="#ececec" text-anchor="middle" font-weight="normal" >Up</text>
<text x="691.7" y="303.2" font-size="8.6" fill="#ececec" text-anchor="middle" font-weight="normal" >Three</text>
<text x="691.7" y="313.5" font-size="8.6" fill="#ececec" text-anchor="middle" font-weight="normal" >Outside Up</text>
<text x="365.0" y="385.5" font-size="8.6" fill="#ececec" text-anchor="middle" font-weight="normal" >Evening</text>
<text x="365.0" y="395.8" font-size="8.6" fill="#ececec" text-anchor="middle" font-weight="normal" >Star</text>
<text x="419.5" y="385.5" font-size="8.6" fill="#ececec" text-anchor="middle" font-weight="normal" >Evening Doji</text>
<text x="419.5" y="395.8" font-size="8.6" fill="#ececec" text-anchor="middle" font-weight="normal" >Star</text>
<text x="474.5" y="385.5" font-size="8.6" fill="#ececec" text-anchor="middle" font-weight="normal" >Bearish Aban-</text>
<text x="474.5" y="395.8" font-size="8.6" fill="#ececec" text-anchor="middle" font-weight="normal" >doned Baby</text>
<text x="528.5" y="385.5" font-size="8.6" fill="#ececec" text-anchor="middle" font-weight="normal" >Three Black</text>
<text x="528.5" y="395.8" font-size="8.6" fill="#ececec" text-anchor="middle" font-weight="normal" >Crows</text>
<text x="582.8" y="385.5" font-size="8.6" fill="#ececec" text-anchor="middle" font-weight="normal" >Three Line</text>
<text x="582.8" y="395.8" font-size="8.6" fill="#ececec" text-anchor="middle" font-weight="normal" >Strike</text>
<text x="634.5" y="385.5" font-size="8.6" fill="#ececec" text-anchor="middle" font-weight="normal" >Three Inside</text>
<text x="634.5" y="395.8" font-size="8.6" fill="#ececec" text-anchor="middle" font-weight="normal" >Down</text>
<text x="689.0" y="385.5" font-size="8.6" fill="#ececec" text-anchor="middle" font-weight="normal" >Three Outside</text>
<text x="689.0" y="395.8" font-size="8.6" fill="#ececec" text-anchor="middle" font-weight="normal" >Down</text>
<text x="188.5" y="21.6" font-size="14.4" fill="#ffffff" text-anchor="start" font-weight="bold" letter-spacing="-0.6">One Candle Patterns</text>
<text x="455.0" y="21.6" font-size="14.4" fill="#ffffff" text-anchor="start" font-weight="bold" letter-spacing="-0.6">Two Candle Patterns</text>
<text x="340.4" y="223.9" font-size="14.4" fill="#ffffff" text-anchor="start" font-weight="bold" letter-spacing="-0.6">Three+ Candle Patterns</text>
<text x="153.3" y="228.5" font-size="13.8" fill="#ffffff" text-anchor="start" font-weight="bold" letter-spacing="0.3">Neutral</text>
<text x="0" y="0" font-size="13.5" font-weight="bold" fill="#2bc29e" text-anchor="middle" letter-spacing="-0.6" transform="translate(161.7,82.1) rotate(-90)">Bullish</text>
<text x="0" y="0" font-size="13.5" font-weight="bold" fill="#ee4d65" text-anchor="middle" letter-spacing="-0.6" transform="translate(161.7,149.3) rotate(-90)">Bearish</text>
<text x="0" y="0" font-size="13.5" font-weight="bold" fill="#2bc29e" text-anchor="middle" letter-spacing="-0.6" transform="translate(428.4,81.8) rotate(-90)">Bullish</text>
<text x="0" y="0" font-size="13.5" font-weight="bold" fill="#ee4d65" text-anchor="middle" letter-spacing="-0.6" transform="translate(428.4,148.5) rotate(-90)">Bearish</text>
<text x="0" y="0" font-size="13.5" font-weight="bold" fill="#2bc29e" text-anchor="middle" letter-spacing="-0.6" transform="translate(312.5,282.4) rotate(-90)">Bullish</text>
<text x="0" y="0" font-size="13.5" font-weight="bold" fill="#ee4d65" text-anchor="middle" letter-spacing="-0.6" transform="translate(312.5,347.2) rotate(-90)">Bearish</text>
<text x="65.1" y="48.9" font-size="21.5" fill="#ffffff" text-anchor="middle" font-weight="bold" letter-spacing="-0.15">Candlestick</text>
<text x="67.9" y="74.3" font-size="21.5" fill="#ffffff" text-anchor="middle" font-weight="bold" letter-spacing="-0.15">Patterns</text>
<text x="64.5" y="101.9" font-size="18.8" fill="#12302a" text-anchor="middle" font-weight="normal" letter-spacing="0.1" stroke="#12302a" stroke-width="0.8">Cheat Sheat</text>
<text x="34.6" y="196.7" font-size="10.5" fill="#ffffff" text-anchor="middle" font-weight="bold" letter-spacing="0.6">alt</text>
<text x="45.4" y="197.9" font-size="26.5" fill="#12382f" text-anchor="start" font-weight="bold" >FINS</text>
<text x="7.2" y="228.0" font-size="13.8" fill="#ffffff" text-anchor="start" font-weight="bold" letter-spacing="-0.4">Basics</text>
<text x="106.8" y="247.0" font-size="9" fill="#ececec" text-anchor="end" font-weight="normal" >High</text>
<text x="109.6" y="264.0" font-size="9" fill="#ececec" text-anchor="end" font-weight="normal" >Open</text>
<text x="110.0" y="301.8" font-size="9" fill="#ececec" text-anchor="end" font-weight="normal" >Close</text>
<text x="109.6" y="318.4" font-size="9" fill="#ececec" text-anchor="end" font-weight="normal" >Low</text>
<text x="33.0" y="256.3" font-size="9" fill="#ececec" text-anchor="middle" font-weight="normal" >Upper</text>
<text x="33.0" y="265.4" font-size="9" fill="#ececec" text-anchor="middle" font-weight="normal" >Shadow</text>
<text x="33.2" y="287.2" font-size="8.5" fill="#ececec" text-anchor="middle" font-weight="normal" >Real Body</text>
<text x="32.2" y="311.0" font-size="9" fill="#ececec" text-anchor="middle" font-weight="normal" >Lower</text>
<text x="32.2" y="320.2" font-size="9" fill="#ececec" text-anchor="middle" font-weight="normal" >Shadow</text>
<text x="32.4" y="348.3" font-size="8.4" fill="#ececec" text-anchor="start" font-weight="normal" >Close</text>
<text x="32.4" y="386.0" font-size="8.4" fill="#ececec" text-anchor="start" font-weight="normal" >Open</text>
</svg>
</body></html>
